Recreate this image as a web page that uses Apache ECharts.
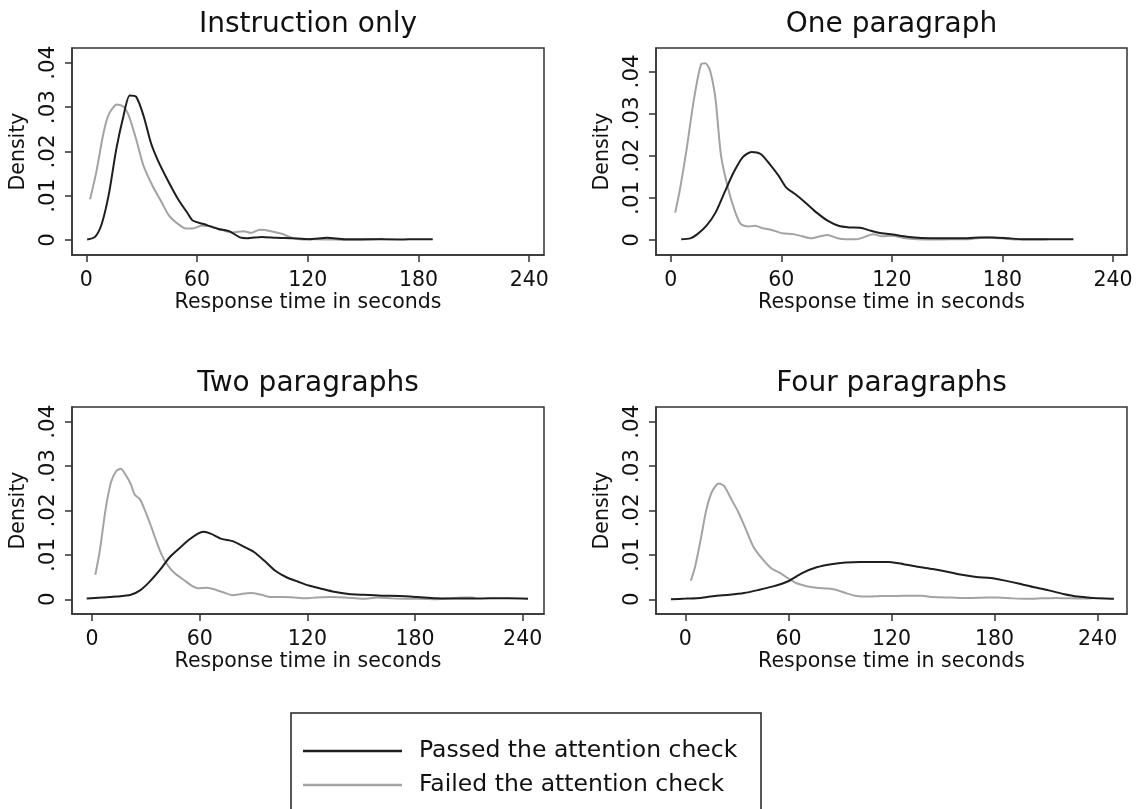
<!DOCTYPE html>
<html>
<head>
<meta charset="utf-8">
<title>Response time densities</title>
<script src="https://cdn.jsdelivr.net/npm/echarts@6.0.0/dist/echarts.min.js"></script>
<style>
  html, body { margin: 0; padding: 0; background: #fff; }
  #container { width: 1138px; height: 809px; }
</style>
</head>
<body>
<div id="container"></div>
<script>
// axis ticks / labels
const xTicks = [0, 60, 120, 180, 240];
const yTicks = [0, 0.01, 0.02, 0.03, 0.04];
const yTickLabels = ['0', '.01', '.02', '.03', '.04'];
const panelTitles = ['Instruction only', 'One paragraph', 'Two paragraphs', 'Four paragraphs'];
const seriesNames = ['Passed the attention check', 'Failed the attention check'];

// Instruction only
const instrPassedX = [0.4, 4.7, 8.3, 12.2, 16.2, 20.1, 23.5, 27, 31, 34.9, 38.8, 43.8, 49.7, 54.6, 57.6, 63.5, 71.4, 77.3, 83.2, 87.2, 95, 103, 111, 120.7, 130.5, 140, 150, 170, 180, 187.7];
const instrPassedY = [0.0001, 0.0007, 0.0036, 0.0104, 0.0205, 0.028, 0.0326, 0.0323, 0.028, 0.022, 0.0179, 0.0137, 0.0092, 0.0062, 0.0044, 0.0036, 0.0025, 0.002, 0.0006, 0.0004, 0.0007, 0.0005, 0.0004, 0.0002, 0.0005, 0.0002, 0.0002, 0.0001, 0.0002, 0.0002];
const instrFailedX = [2, 5.3, 9.3, 12.2, 16.6, 20.1, 23, 27, 31, 35.9, 40.8, 44.8, 49.7, 54, 57.6, 62.5, 67.4, 73.4, 79.3, 85.2, 89.1, 94, 100, 105.9, 110.8, 116.7, 124.6, 134.5, 146.3, 156.2, 161];
const instrFailedY = [0.0092, 0.0152, 0.0242, 0.0284, 0.0306, 0.0301, 0.028, 0.0227, 0.0167, 0.0122, 0.0085, 0.0055, 0.0036, 0.0026, 0.0026, 0.0032, 0.0031, 0.0023, 0.0017, 0.002, 0.0016, 0.0023, 0.002, 0.0014, 0.0006, 0.0001, 0.0002, 0.0001, 0, 0.0002, 0.0003];

// One paragraph
const onePassedX = [5.7, 10.6, 14.5, 19.4, 24.3, 29.2, 34.1, 39, 43.9, 48.8, 53.7, 58.6, 62.6, 67.5, 73.3, 79.2, 85.1, 91, 96.9, 102.8, 108.6, 114.5, 120.4, 128.2, 136.1, 145.9, 157.7, 167.5, 175.3, 183.2, 191, 200.8, 208.7, 218.5];
const onePassedY = [0.0002, 0.0004, 0.0014, 0.0034, 0.0065, 0.0113, 0.016, 0.0196, 0.0209, 0.0204, 0.018, 0.0152, 0.0125, 0.0109, 0.0088, 0.0065, 0.0046, 0.0034, 0.003, 0.0029, 0.0022, 0.0016, 0.0013, 0.0008, 0.0005, 0.0004, 0.0004, 0.0006, 0.0006, 0.0004, 0.0002, 0.0002, 0.0002, 0.0002];
const oneFailedX = [2.4, 4.7, 8.6, 12.6, 16.5, 18.8, 21.4, 24.3, 27.3, 31.2, 35.1, 38, 42, 45.9, 49.8, 54.7, 60.6, 66.5, 71.4, 76.3, 81.2, 85.1, 90, 94.9, 100.8, 105.7, 109.6, 114.5, 120.4, 126.3, 134.1, 142, 151.8, 161.6, 171.4, 179.2, 187.1, 196.9, 204.7];
const oneFailedY = [0.0065, 0.0113, 0.0215, 0.0334, 0.0417, 0.0419, 0.0401, 0.0334, 0.02, 0.0121, 0.0065, 0.0038, 0.0032, 0.0034, 0.0028, 0.0024, 0.0016, 0.0014, 0.0009, 0.0004, 0.0009, 0.0012, 0.0005, 0.0002, 0.0002, 0.0008, 0.0014, 0.0009, 0.001, 0.0005, 0.0002, 0.0001, 0.0002, 0.0002, 0.0006, 0.0004, 0.0001, 0.0001, 0.0002];

// Two paragraphs
const twoPassedX = [-3, 5.5, 13.5, 21.6, 26.7, 31.7, 37.8, 42.9, 47.9, 54, 59, 62.1, 66.1, 72.2, 78.3, 84.3, 90.4, 96.5, 102.5, 108.6, 114.6, 120.7, 126.8, 134.9, 143, 151, 161.2, 171.3, 181.4, 191.5, 201.6, 211.7, 221.8, 231.9, 243];
const twoPassedY = [0.00015, 0.0004, 0.0006, 0.001, 0.002, 0.0038, 0.0066, 0.0093, 0.0112, 0.0134, 0.0148, 0.0152, 0.0148, 0.0136, 0.0131, 0.0119, 0.0106, 0.0085, 0.0063, 0.0049, 0.004, 0.0031, 0.0025, 0.0017, 0.0012, 0.001, 0.0008, 0.00075, 0.0005, 0.0002, 0.00015, 0.00015, 0.0002, 0.0002, 0.0001];
const twoFailedX = [1.8, 4.4, 7.5, 10.5, 13.5, 16, 18.6, 21.6, 23.7, 26.7, 29.7, 32.8, 35.8, 38.8, 41.9, 45.9, 51, 55, 59, 64.1, 69.2, 74.2, 78.3, 83.3, 88.4, 94.4, 99.5, 106.6, 112.6, 118.7, 124.8, 132.8, 140.9, 151, 159.1, 167.2, 175.3, 183.4, 191.5, 199.6, 205.6, 211.7, 213.7];
const twoFailedY = [0.0055, 0.0112, 0.0202, 0.0263, 0.0289, 0.0294, 0.0281, 0.0259, 0.0236, 0.0225, 0.0198, 0.0165, 0.0131, 0.01, 0.0078, 0.0059, 0.0044, 0.0032, 0.0025, 0.0026, 0.0021, 0.0014, 0.0009, 0.0012, 0.0014, 0.001, 0.0005, 0.0005, 0.0004, 0.0002, 0.0004, 0.0005, 0.0004, 0.0001, 0.0004, 0.0002, 0.0001, 0.0001, 0, 0.0002, 0.0004, 0.0004, 0.0002];

// Four paragraphs
const fourPassedX = [-8.4, 0.4, 8.9, 17.3, 25.8, 34.2, 42.6, 51.1, 59.5, 68, 76.4, 84.9, 93.3, 101.7, 110.2, 118.6, 127.1, 135.5, 144, 152.4, 160.9, 169.3, 177.7, 186.2, 194.6, 203.1, 211.5, 220, 228.4, 236.9, 244.2, 249.5];
const fourPassedY = [0, 0.00015, 0.0003, 0.00075, 0.001, 0.0014, 0.0021, 0.0029, 0.004, 0.0059, 0.0072, 0.0079, 0.0083, 0.0084, 0.0084, 0.0084, 0.0079, 0.0073, 0.0068, 0.0062, 0.0055, 0.005, 0.0048, 0.0042, 0.0035, 0.0027, 0.002, 0.0012, 0.0006, 0.0003, 0.00015, 0.0001];
const fourFailedX = [3.2, 5.7, 8.9, 12, 15.2, 19.4, 22.6, 26.8, 31, 35.3, 39.5, 44.8, 50, 55.3, 59.5, 64.8, 70.1, 76.4, 82.8, 88, 93.3, 99.6, 106, 114.4, 122.9, 131.3, 137.6, 144, 154.5, 165.1, 175.6, 182, 190.4, 198.9, 207.3, 215.8, 224.2, 232.6, 236.9];
const fourFailedY = [0.0042, 0.0074, 0.0134, 0.0198, 0.024, 0.0261, 0.0255, 0.0225, 0.0195, 0.0157, 0.0119, 0.0091, 0.007, 0.0059, 0.0048, 0.0036, 0.003, 0.0026, 0.0024, 0.0021, 0.0014, 0.00075, 0.0006, 0.00075, 0.00075, 0.0008, 0.0008, 0.0005, 0.0004, 0.0003, 0.0004, 0.0004, 0.0002, 0.0001, 0.0002, 0.0003, 0.0002, 0.00015, 0.0002];

const panelData = [
    [[instrPassedX, instrPassedY], [instrFailedX, instrFailedY]],
    [[onePassedX, onePassedY], [oneFailedX, oneFailedY]],
    [[twoPassedX, twoPassedY], [twoFailedX, twoFailedY]],
    [[fourPassedX, fourPassedY], [fourFailedX, fourFailedY]]
];

// layout of the 2x2 plot regions and their axis extents
const panels = [
    { left: 72, top: 48, width: 472, height: 207, xMin: -7.8, xMax: 248, yMin: -0.00338, yMax: 0.04333 },
    { left: 656, top: 48, width: 471, height: 207, xMin: -8, xMax: 247.6, yMin: -0.00355, yMax: 0.04554 },
    { left: 72, top: 407, width: 472, height: 207, xMin: -11.2, xMax: 251.9, yMin: -0.00332, yMax: 0.04331 },
    { left: 656, top: 407, width: 471, height: 207, xMin: -17.1, xMax: 257.1, yMin: -0.00332, yMax: 0.04331 }
];

const font = 'DejaVu Sans';
const ink = '#111';
const frameColor = '#333';
const lineColors = ['#1e1e1e', '#a3a3a3'];

let dom = document.getElementById('container');
let myChart = echarts.init(dom, null, { renderer: 'canvas' });

const zip = (xs, ys) => xs.map((x, i) => [x, ys[i]]);

let grids = [], xAxes = [], yAxes = [], series = [], texts = [];
panels.forEach((p, i) => {
    grids.push({
        left: p.left, top: p.top, width: p.width, height: p.height,
        show: true, borderColor: frameColor, borderWidth: 1.5, backgroundColor: '#fff'
    });
    xAxes.push({
        gridIndex: i,
        type: 'value',
        min: p.xMin, max: p.xMax,
        name: 'Response time in seconds',
        nameLocation: 'middle',
        nameGap: 37,
        nameTextStyle: { fontFamily: font, fontSize: 20.5, color: ink },
        axisLine: { show: true, onZero: false, lineStyle: { color: frameColor, width: 1.5 } },
        axisTick: { show: true, length: 7, customValues: xTicks, lineStyle: { color: frameColor, width: 1.5 } },
        axisLabel: { customValues: xTicks, margin: 15, fontFamily: font, fontSize: 20.5, color: ink },
        splitLine: { show: false }
    });
    yAxes.push({
        gridIndex: i,
        type: 'value',
        min: p.yMin, max: p.yMax,
        name: 'Density',
        nameLocation: 'middle',
        nameGap: 43,
        nameTextStyle: { fontFamily: font, fontSize: 20.5, color: ink },
        axisLine: { show: true, onZero: false, lineStyle: { color: frameColor, width: 1.5 } },
        axisTick: { show: true, length: 7, customValues: yTicks, lineStyle: { color: frameColor, width: 1.5 } },
        axisLabel: {
            customValues: yTicks, rotate: 90, margin: 13,
            fontFamily: font, fontSize: 21.5, color: ink,
            formatter: function (v) {
                let k = yTicks.indexOf(v);
                return k >= 0 ? yTickLabels[k] : String(v);
            }
        },
        splitLine: { show: false }
    });
    panelData[i].forEach((d, j) => {
        series.push({
            name: seriesNames[j],
            type: 'line',
            xAxisIndex: i,
            yAxisIndex: i,
            data: zip(d[0], d[1]),
            symbol: 'none',
            smooth: 0.25,
            lineStyle: { color: lineColors[j], width: 2 },
            itemStyle: { color: lineColors[j] },
            z: j === 0 ? 3 : 2
        });
    });
    texts.push({
        type: 'text',
        x: p.left + p.width / 2,
        y: p.top - 23,
        style: {
            text: panelTitles[i],
            fontFamily: font, fontSize: 28, fill: ink,
            align: 'center', verticalAlign: 'middle'
        }
    });
});

// legend frame
texts.push({
    type: 'rect',
    shape: { x: 291, y: 713, width: 470, height: 110 },
    style: { fill: 'none', stroke: '#222', lineWidth: 1.5 },
    z: 10
});

// one legend per row, stacked inside the frame
let legends = seriesNames.map((name, j) => ({
    data: [name],
    left: 303,
    top: j === 0 ? 738 : 772,
    icon: 'rect',
    itemWidth: 99,
    itemHeight: 2.5,
    padding: 0,
    selectedMode: false,
    textStyle: { fontFamily: font, fontSize: 23.5, color: ink, lineHeight: 26, padding: [0, 0, 0, 12] }
}));

let option = {
    backgroundColor: '#fff',
    animation: false,
    grid: grids,
    xAxis: xAxes,
    yAxis: yAxes,
    series: series,
    graphic: texts,
    legend: legends
};

if (option && typeof option === 'object') {
    myChart.setOption(option, true);
}
</script>
</body>
</html>
